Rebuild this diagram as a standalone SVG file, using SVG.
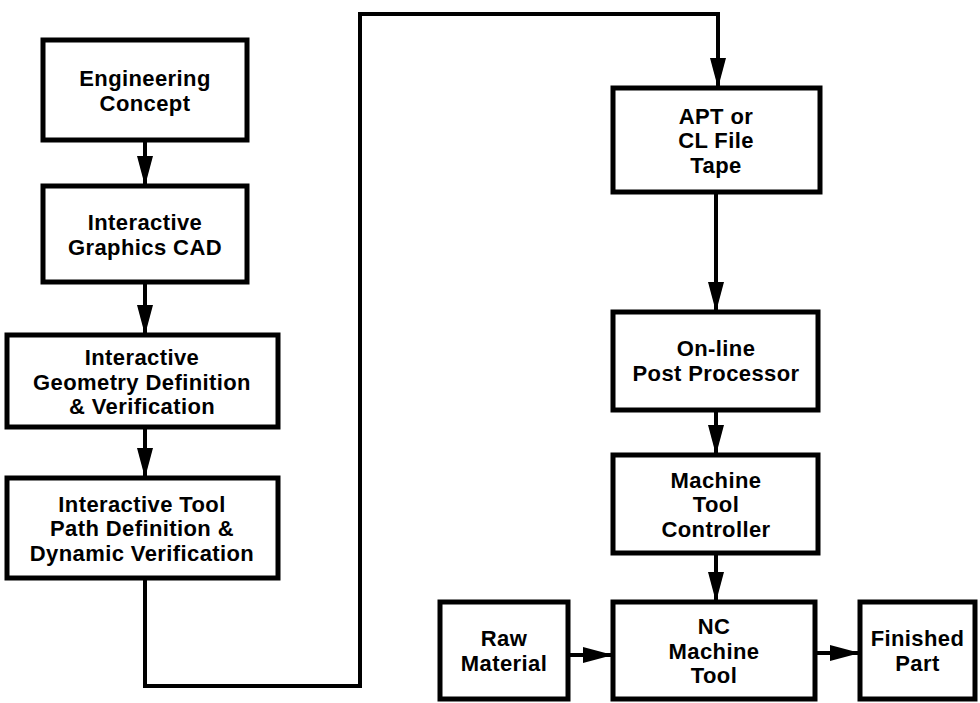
<svg xmlns="http://www.w3.org/2000/svg" width="980" height="703" viewBox="0 0 980 703">
<defs>
<marker id="ah" markerUnits="userSpaceOnUse" markerWidth="30" markerHeight="16" refX="30" refY="8" orient="auto">
<path d="M0,0 L30,8 L0,16 z" fill="#000"/>
</marker>
<style>
.box{fill:#fff;stroke:#000;stroke-width:5}
.t{font-family:"Liberation Sans",Arial,sans-serif;font-weight:bold;font-size:22px;letter-spacing:0.4px;fill:#000;text-anchor:middle}
.c{fill:none;stroke:#000;stroke-width:4}
</style>
</defs>
<rect width="980" height="703" fill="#fff"/>
<g id="connectors">
<path class="c" d="M145,140 V186" marker-end="url(#ah)"/>
<path class="c" d="M145,282 V335" marker-end="url(#ah)"/>
<path class="c" d="M145,427 V478" marker-end="url(#ah)"/>
<path class="c" d="M145,578 V686 H360 V14 H718 V88" marker-end="url(#ah)"/>
<path class="c" d="M716,192 V312" marker-end="url(#ah)"/>
<path class="c" d="M716,410 V455" marker-end="url(#ah)"/>
<path class="c" d="M716,553 V602" marker-end="url(#ah)"/>
<path class="c" d="M568,655 H613" marker-end="url(#ah)"/>
<path class="c" d="M815,653 H860" marker-end="url(#ah)"/>
</g>
<g id="engineering-concept">
<rect class="box" x="43" y="40" width="204" height="100"/>
<text class="t" x="145" y="86">Engineering</text>
<text class="t" x="145" y="111">Concept</text>
</g>
<g id="graphics-cad">
<rect class="box" x="43" y="186" width="204" height="96"/>
<text class="t" x="145" y="230">Interactive</text>
<text class="t" x="145" y="255">Graphics CAD</text>
</g>
<g id="geometry-definition">
<rect class="box" x="7" y="335" width="271" height="92"/>
<text class="t" x="142" y="365">Interactive</text>
<text class="t" x="142" y="389.5">Geometry Definition</text>
<text class="t" x="142" y="414">&amp; Verification</text>
</g>
<g id="tool-path">
<rect class="box" x="7" y="478" width="271" height="100"/>
<text class="t" x="142" y="511.5">Interactive Tool</text>
<text class="t" x="142" y="536">Path Definition &amp;</text>
<text class="t" x="142" y="560.5">Dynamic Verification</text>
</g>
<g id="apt-file">
<rect class="box" x="613" y="88" width="207" height="104"/>
<text class="t" x="716" y="123.5">APT or</text>
<text class="t" x="716" y="148">CL File</text>
<text class="t" x="716" y="172.5">Tape</text>
</g>
<g id="post-processor">
<rect class="box" x="613" y="312" width="205" height="98"/>
<text class="t" x="716" y="356">On-line</text>
<text class="t" x="716" y="381">Post Processor</text>
</g>
<g id="controller">
<rect class="box" x="613" y="455" width="205" height="98"/>
<text class="t" x="716" y="487.5">Machine</text>
<text class="t" x="716" y="512">Tool</text>
<text class="t" x="716" y="536.5">Controller</text>
</g>
<g id="nc-machine">
<rect class="box" x="613" y="602" width="202" height="97"/>
<text class="t" x="714" y="634">NC</text>
<text class="t" x="714" y="658.5">Machine</text>
<text class="t" x="714" y="683">Tool</text>
</g>
<g id="raw-material">
<rect class="box" x="440" y="602" width="128" height="97"/>
<text class="t" x="504" y="646">Raw</text>
<text class="t" x="504" y="671">Material</text>
</g>
<g id="finished-part">
<rect class="box" x="860" y="602" width="115" height="97"/>
<text class="t" x="917.5" y="646">Finished</text>
<text class="t" x="917.5" y="671">Part</text>
</g>
</svg>
